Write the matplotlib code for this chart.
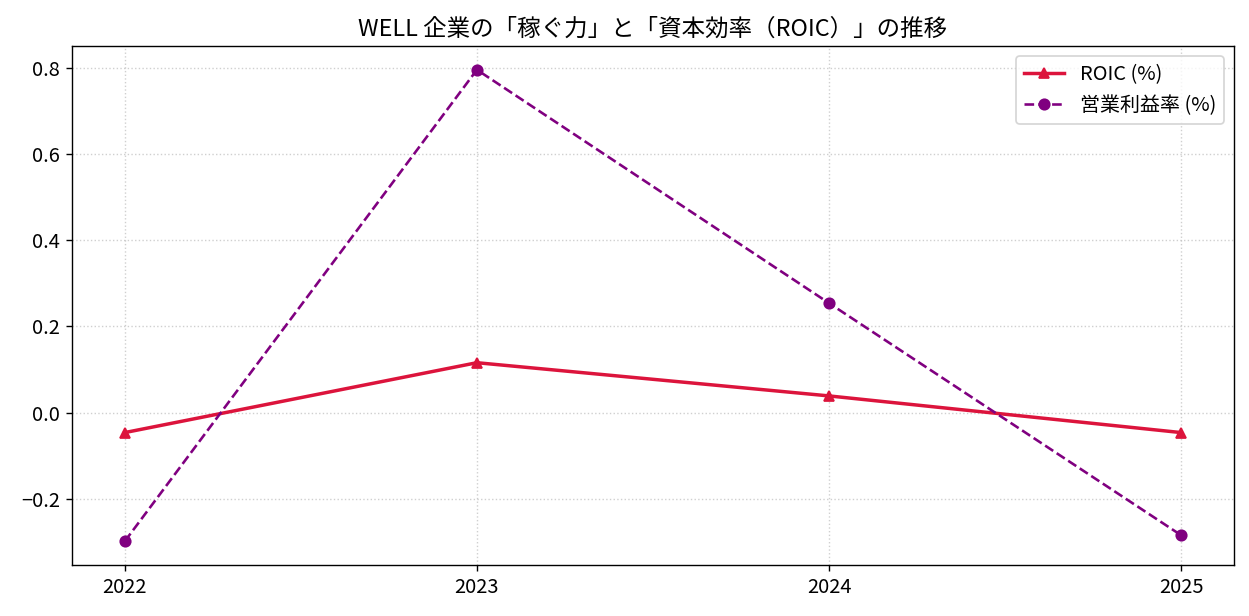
import matplotlib
matplotlib.use('Agg')
import matplotlib.pyplot as plt

# data
years = ["2022", "2023", "2024", "2025"]
roic = [-0.046, 0.116, 0.039, -0.046]
op_margin = [-0.298, 0.795, 0.254, -0.284]

plt.rcParams['font.family'] = ['Noto Sans CJK JP', 'DejaVu Sans']

fig, ax = plt.subplots(figsize=(1249 / 125, 616 / 125), dpi=125)
ax.plot(years, roic, marker='^', color='crimson', linewidth=2, label='ROIC (%)')
ax.plot(years, op_margin, marker='o', linestyle='--', color='purple', label='営業利益率 (%)')
ax.set_title('WELL 企業の「稼ぐ力」と「資本効率（ROIC）」の推移', fontsize=13.5)
ax.tick_params(labelsize=11.5)
ax.grid(True, linestyle=':', alpha=0.6)
ax.legend(loc='upper right', fontsize=11.5)
fig.subplots_adjust(left=0.0576, right=0.988, top=0.925, bottom=0.083)
fig.savefig('out.png', dpi=125)
